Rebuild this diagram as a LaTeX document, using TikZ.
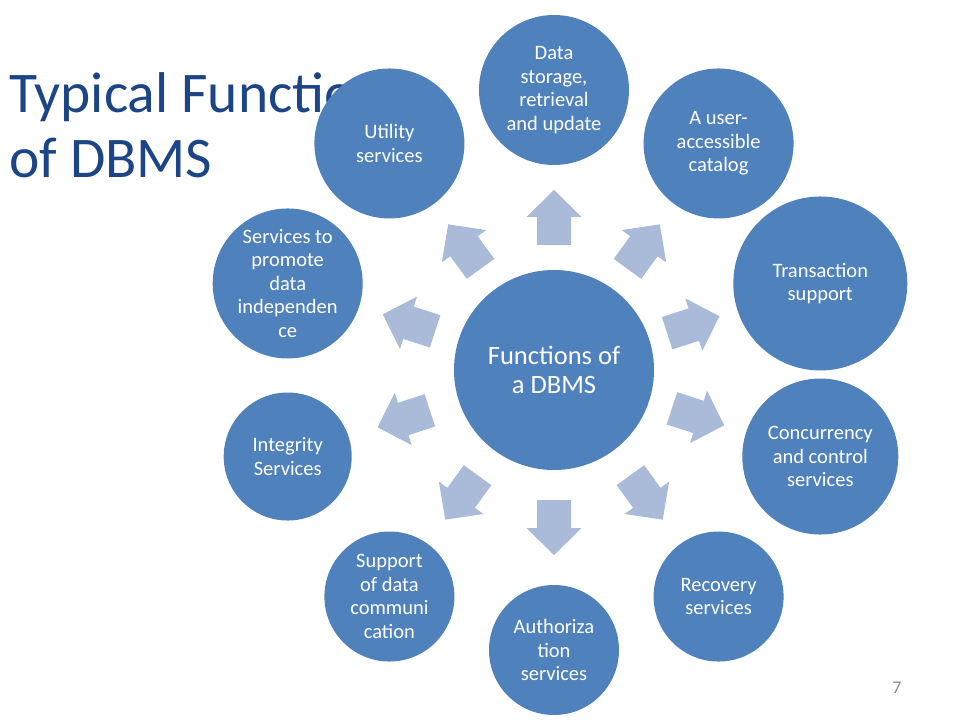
\documentclass[tikz,border=0pt]{standalone}
\usepackage{fontspec}
\setmainfont{Carlito}
\definecolor{circblue}{HTML}{4F81BD}
\definecolor{arrowblue}{HTML}{A9BBD8}
\definecolor{titleblue}{HTML}{1C4587}
\definecolor{pagegray}{HTML}{8C8C8C}
\tikzset{
  fnode/.style={circle, fill=circblue, draw=none, inner sep=0pt, text=white,
    align=center, font=\fontsize{20.5}{23.5}\selectfont},
  centernode/.style={circle, fill=circblue, draw=none, inner sep=0pt, text=white,
    align=center, minimum size=200pt, font=\fontsize{26.5}{29}\selectfont},
  blockarrow/.style={fill=arrowblue, draw=none},
  titletext/.style={text=titleblue, inner sep=0pt, font=\fontsize{57.5}{65}\selectfont}
}
\newcommand{\blockarr}[2]{% angle, outer radius
  \pgfmathsetmacro{\mid}{190-#2/2}
  \pgfmathsetmacro{\st}{\mid-27.5}
  \fill[blockarrow, rotate=#1] (\st,-17) -- ++(28,0) -- ++(0,-10.5) -- ++(27,27.5)
     -- ++(-27,27.5) -- ++(0,-10.5) -- ++(-28,0) -- cycle;
}
\begin{document}
\begin{tikzpicture}[x=1pt,y=1pt]
\useasboundingbox (-554,-350) rectangle (406,370);
\fill[white] (-554,-350) rectangle (406,370);
% title
\node[titletext, anchor=base west] (t1) at (-545,257) {Typical Functions};
\node[titletext, anchor=base west] (t2) at (-545,192) {of DBMS};
% arrows
\blockarr{90}{75}
\blockarr{54}{75}
\blockarr{18}{87}
\blockarr{-18}{77}
\blockarr{-54}{65}
\blockarr{-90}{65}
\blockarr{-126}{65}
\blockarr{-162}{64}
\blockarr{162}{75}
\blockarr{126}{75}
% center
\node[centernode] (c) at (0,0) {Functions of\\a DBMS};
% outer circles
\node[fnode, minimum size=150pt] (n1) at (90:280) {Data\\storage,\\retrieval\\and update};
\node[fnode, minimum size=150pt] (n2) at (54:280) {A user-\\accessible\\catalog};
\node[fnode, minimum size=174pt] (n3) at (18:280) {Transaction\\support};
\node[fnode, minimum size=156pt] (n4) at (-18:280) {Concurrency\\and control\\services};
\node[fnode, minimum size=130pt] (n5) at (-54:280) {Recovery\\services};
\node[fnode, minimum size=130pt] (n6) at (-90:280) {Authoriza\\tion\\services};
\node[fnode, minimum size=130pt] (n7) at (-126:280) {Support\\of data\\communi\\cation};
\node[fnode, minimum size=128pt] (n8) at (-162:280) {Integrity\\Services};
\node[fnode, minimum size=150pt] (n9) at (162:280) {Services to\\promote\\data\\independen\\ce};
\node[fnode, minimum size=150pt] (n10) at (126:280) {Utility\\services};
% page number
\node[text=pagegray, anchor=base, font=\fontsize{18}{20}\selectfont] (pg) at (343,-323) {7};
\end{tikzpicture}
\end{document}
